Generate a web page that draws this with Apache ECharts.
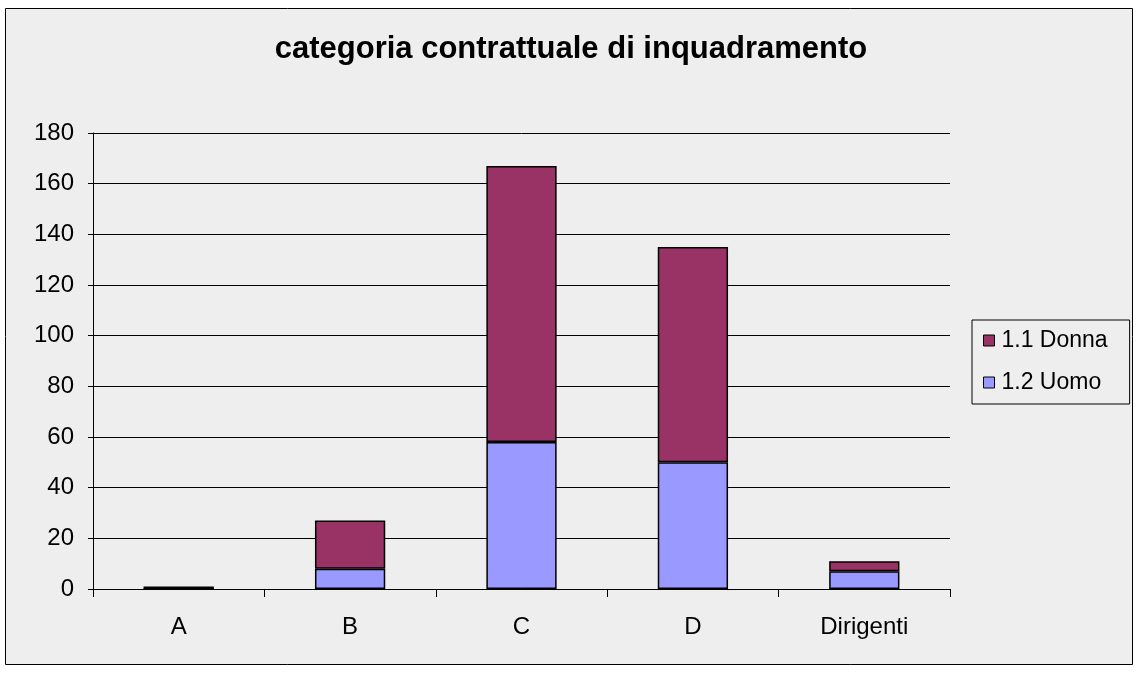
<!DOCTYPE html>
<html lang="it">
<head>
<meta charset="UTF-8">
<title>categoria contrattuale di inquadramento</title>
<script src="https://cdn.jsdelivr.net/npm/echarts@6/dist/echarts.min.js"></script>
<style>
    html, body { margin: 0; padding: 0; width: 100%; height: 100%; background: #fff; }
    #container { width: 1139px; height: 675px; }
</style>
</head>
<body>
<div id="container"></div>
<script>
    let categories = ['A', 'B', 'C', 'D', 'Dirigenti'];
    let uomo = [0, 8, 58, 50, 7];
    let donna = [1, 19, 109, 85, 4];
    let yTicks = [0, 20, 40, 60, 80, 100, 120, 140, 160, 180];

    let font = '"Liberation Sans", Arial, sans-serif';
    let chart = echarts.init(document.getElementById('container'));
    let option = {
        backgroundColor: '#ffffff',
        animation: false,
        graphic: [{
            type: 'rect',
            shape: { x: 5.5, y: 8.5, width: 1127, height: 656 },
            style: { fill: '#eeeeee', stroke: '#000', lineWidth: 1 },
            z: -10,
            silent: true
        }],
        title: {
            text: 'categoria contrattuale di inquadramento',
            left: 571,
            top: 34,
            textAlign: 'center',
            padding: 0,
            textStyle: { fontFamily: font, fontSize: 31, fontWeight: 'bold', color: '#000' }
        },
        legend: {
            orient: 'vertical',
            left: 972,
            top: 320,
            padding: [9, 22, 10, 11],
            itemGap: 19,
            itemWidth: 11,
            itemHeight: 11,
            icon: 'rect',
            borderColor: '#000',
            borderWidth: 1,
            backgroundColor: '#eeeeee',
            itemStyle: { borderColor: '#000', borderWidth: 1 },
            textStyle: { fontFamily: font, fontSize: 23, color: '#000', padding: [0, 0, 0, 2] },
            data: ['1.1 Donna', '1.2 Uomo']
        },
        grid: { left: 93, right: 189, top: 133, bottom: 86, containLabel: false },
        xAxis: {
            type: 'category',
            data: categories,
            axisLine: { lineStyle: { color: '#000', width: 1 } },
            axisTick: { show: true, length: 8, lineStyle: { color: '#000' } },
            axisLabel: { fontFamily: font, fontSize: 24, color: '#000', margin: 26 }
        },
        yAxis: {
            type: 'value',
            min: yTicks[0],
            max: yTicks[yTicks.length - 1],
            interval: 20,
            axisLine: { show: true, lineStyle: { color: '#000' } },
            axisTick: { show: true, length: 5, lineStyle: { color: '#000' } },
            axisLabel: { fontFamily: font, fontSize: 24, color: '#000', margin: 19 },
            splitLine: { show: true, lineStyle: { color: '#000', width: 1 } }
        },
        series: [{
            name: '1.2 Uomo',
            type: 'bar',
            stack: 'tot',
            barWidth: '41%',
            data: uomo,
            itemStyle: { color: '#9999ff', borderColor: '#000', borderWidth: 1.5 }
        }, {
            name: '1.1 Donna',
            type: 'bar',
            stack: 'tot',
            barWidth: '41%',
            data: donna,
            itemStyle: { color: '#993366', borderColor: '#000', borderWidth: 1.5 }
        }]
    };
    chart.setOption(option);
</script>
</body>
</html>
